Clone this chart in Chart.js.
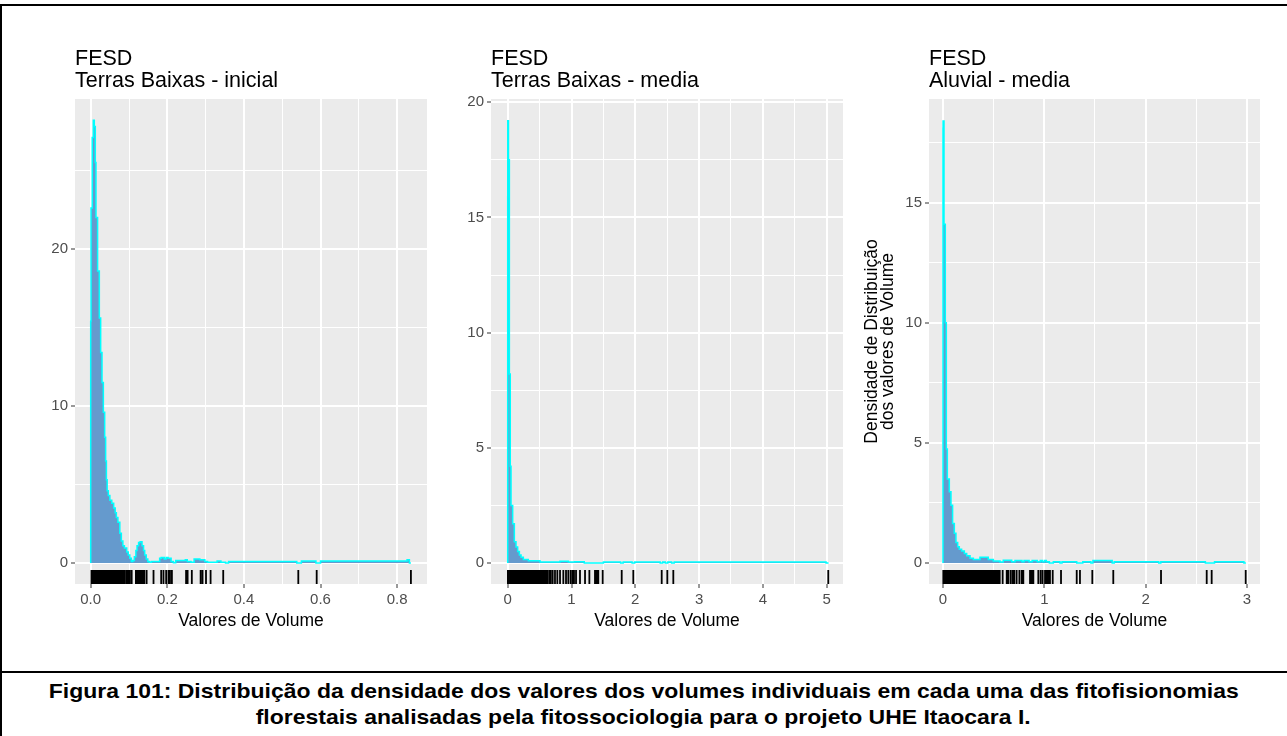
<!DOCTYPE html>
<html>
<head>
<meta charset="utf-8">
<title>Densidade dos volumes individuais</title>
<script src="https://cdn.jsdelivr.net/npm/chart.js@4.4.0/dist/chart.umd.min.js"></script>
<style>
  body { margin: 0; background: #fff; }
  #page { position: relative; width: 1287px; height: 736px; overflow: hidden; background: #fff; }
  .rule { position: absolute; background: #000; }
  .panel { position: absolute; }
  #caption { position: absolute; left: 0; top: 678px; width: 1287px; text-align: center;
             font-family: "Liberation Sans Narrow", "Liberation Sans", Arial, sans-serif;
             font-weight: bold; font-size: 21px; line-height: 26px; color: #000; }
  #caption div { white-space: nowrap; }
  #caption span { display: inline-block; transform-origin: center; }
</style>
</head>
<body>
<div id="page">
  <div class="rule" style="left:0;top:4px;width:1287px;height:2px"></div>
  <div class="rule" style="left:0;top:4px;width:2px;height:732px"></div>
  <div class="rule" style="left:0;top:671px;width:1287px;height:2px"></div>

  <div class="panel" style="left:20px;top:40px"><canvas id="chart1" width="420" height="600"></canvas></div>
  <div class="panel" style="left:445px;top:40px"><canvas id="chart2" width="410" height="600"></canvas></div>
  <div class="panel" style="left:850px;top:40px"><canvas id="chart3" width="430" height="600"></canvas></div>

  <div id="caption">
    <div><span id="cap1">Figura 101: Distribuição da densidade dos valores dos volumes individuais em cada uma das fitofisionomias</span></div>
    <div><span id="cap2">florestais analisadas pela fitossociologia para o projeto UHE Itaocara I.</span></div>
  </div>
</div>

<script>
// ---- data ----
const titles1 = ['FESD', 'Terras Baixas - inicial'];
const titles2 = ['FESD', 'Terras Baixas - media'];
const titles3 = ['FESD', 'Aluvial - media'];
const xTitle = 'Valores de Volume';
const yTitle3 = ['Densidade de Distribuição', 'dos valores de Volume'];

// panel 1: FESD Terras Baixas - inicial (step heights of the density)
const dens1X = [0, 0.0008, 0.004, 0.0068, 0.0094, 0.012, 0.0138, 0.018, 0.0225, 0.026, 0.0295, 0.033,
  0.0365, 0.039, 0.041, 0.043, 0.046, 0.050, 0.055, 0.060, 0.064, 0.067, 0.071, 0.076, 0.080, 0.084,
  0.088, 0.094, 0.098, 0.102, 0.106, 0.110, 0.114, 0.118, 0.121, 0.125, 0.129, 0.134, 0.138, 0.141,
  0.145, 0.149, 0.153, 0.158, 0.180, 0.184, 0.192, 0.197, 0.202, 0.210, 0.216, 0.222, 0.247, 0.252,
  0.262, 0.270, 0.285, 0.298, 0.305, 0.330, 0.340, 0.352, 0.360, 0.538, 0.550, 0.588, 0.600, 0.826,
  0.832, 0.836];
const dens1Y = [0, 15.4, 22.6, 27.1, 28.2, 27.8, 25.5, 22.0, 18.6, 15.6, 13.4, 11.5,
  9.6, 8.0, 6.5, 5.3, 4.6, 4.3, 4.0, 3.8, 3.5, 3.2, 2.9, 2.6, 1.9, 1.4,
  1.1, 0.95, 0.7, 0.5, 0.3, 0.1, 0.15, 0.4, 0.8, 1.1, 1.3, 1.35, 1.1, 0.8,
  0.5, 0.25, 0.1, 0.05, 0.1, 0.3, 0.35, 0.25, 0.35, 0.3, 0.1, 0.02, 0.15, 0.2,
  0.1, 0.05, 0.25, 0.2, 0.1, 0.05, 0.12, 0.05, 0, 0.1, 0, 0.12, 0, 0.12,
  0.2, 0];
const rug1 = [0.002, 0.006, 0.010, 0.014, 0.018, 0.022, 0.026, 0.030, 0.034, 0.038, 0.042, 0.046,
  0.050, 0.054, 0.058, 0.062, 0.066, 0.070, 0.074, 0.078, 0.081, 0.085, 0.089, 0.094, 0.098, 0.102,
  0.107, 0.118, 0.122, 0.125, 0.129, 0.132, 0.136, 0.140, 0.146, 0.164, 0.184, 0.190, 0.197, 0.203,
  0.207, 0.212, 0.249, 0.253, 0.264, 0.287, 0.292, 0.301, 0.313, 0.346, 0.542, 0.590, 0.836];

// panel 2: FESD Terras Baixas - media
const dens2X = [0, 0.001, 0.012, 0.026, 0.040, 0.052, 0.078, 0.104, 0.130, 0.156, 0.183, 0.209, 0.245,
  0.323, 0.506, 0.82, 0.95, 1.05, 1.2, 1.5, 1.77, 1.81, 1.95, 1.99, 2.39, 2.43, 2.47, 2.51, 2.57,
  2.61, 4.99, 5.03];
const dens2Y = [0, 15.9, 19.2, 17.5, 8.2, 4.2, 2.5, 1.7, 0.92, 0.7, 0.5, 0.35, 0.25,
  0.15, 0.1, 0.05, 0.08, 0.04, 0.06, 0, 0.05, 0, 0.05, 0, 0.05, 0, 0.05, 0, 0.05,
  0, 0.05, 0];
const rug2 = [0.003, 0.025, 0.05, 0.075, 0.1, 0.125, 0.15, 0.175, 0.2, 0.225, 0.25, 0.275, 0.3,
  0.325, 0.35, 0.375, 0.4, 0.425, 0.45, 0.475, 0.5, 0.525, 0.55, 0.575, 0.600, 0.621, 0.652, 0.674,
  0.705, 0.741, 0.778, 0.820, 0.872, 0.914, 0.950, 0.987, 1.018, 1.039, 1.071, 1.133, 1.212, 1.280,
  1.368, 1.395, 1.420, 1.489, 1.787, 1.969, 2.414, 2.502, 2.596, 5.025];

// panel 3: FESD Aluvial - media
const dens3X = [0, 0.001, 0.010, 0.023, 0.033, 0.043, 0.0625, 0.079, 0.095, 0.112, 0.128, 0.145,
  0.161, 0.184, 0.211, 0.234, 0.267, 0.300, 0.365, 0.447, 0.497, 0.563, 0.595, 0.678, 0.711, 0.78,
  0.80, 0.85, 0.88, 0.93, 0.96, 0.98, 1.00, 1.02, 1.05, 1.089, 1.155, 1.175, 1.32, 1.38, 1.46, 1.48,
  1.67, 1.69, 2.13, 2.15, 2.59, 2.68, 2.97, 2.99];
const dens3Y = [0, 18.1, 18.4, 14.1, 10.0, 4.75, 3.5, 2.97, 2.4, 1.65, 1.24, 0.85,
  0.68, 0.57, 0.5, 0.4, 0.3, 0.2, 0.15, 0.24, 0.15, 0.08, 0.04, 0.12, 0.05, 0.1,
  0.05, 0.1, 0.05, 0.1, 0.05, 0.1, 0.05, 0.1, 0.05, 0, 0.05, 0, 0.05, 0, 0.05, 0,
  0.1, 0, 0.05, 0, 0.05, 0, 0.05, 0];
const rug3 = [0.003, 0.02, 0.037, 0.054, 0.071, 0.088, 0.105, 0.122, 0.139, 0.156, 0.173, 0.19,
  0.207, 0.224, 0.241, 0.258, 0.275, 0.29, 0.305, 0.322, 0.339, 0.356, 0.373, 0.39, 0.407, 0.424,
  0.441, 0.458, 0.475, 0.492, 0.509, 0.526, 0.543, 0.56, 0.589, 0.629, 0.645, 0.668, 0.688, 0.704,
  0.727, 0.754, 0.777, 0.793, 0.859, 0.875, 0.892, 0.941, 0.964, 0.984, 1.007, 1.023, 1.040, 1.056,
  1.083, 1.165, 1.320, 1.352, 1.474, 1.681, 2.152, 2.603, 2.652, 2.988];

// axis ticks
const xMajor1 = [0, 0.2, 0.4, 0.6, 0.8], xMinor1 = [0.1, 0.3, 0.5, 0.7];
const xLabels1 = ['0.0', '0.2', '0.4', '0.6', '0.8'];
const yMajor1 = [0, 10, 20], yMinor1 = [5, 15, 25];
const yLabels1 = ['0', '10', '20'];

const xMajor2 = [0, 1, 2, 3, 4, 5], xMinor2 = [0.5, 1.5, 2.5, 3.5, 4.5];
const xLabels2 = ['0', '1', '2', '3', '4', '5'];
const yMajor2 = [0, 5, 10, 15, 20], yMinor2 = [2.5, 7.5, 12.5, 17.5];
const yLabels2 = ['0', '5', '10', '15', '20'];

const xMajor3 = [0, 1, 2, 3], xMinor3 = [0.5, 1.5, 2.5];
const xLabels3 = ['0', '1', '2', '3'];
const yMajor3 = [0, 5, 10, 15], yMinor3 = [2.5, 7.5, 12.5, 17.5];
const yLabels3 = ['0', '5', '10', '15'];

const FONT = '"Liberation Sans", Arial, sans-serif';

// grey ggplot panel
const panelBg = {
  id: 'panelBg',
  beforeDraw(chart) {
    const { ctx, chartArea: a } = chart;
    ctx.save();
    ctx.fillStyle = '#EBEBEB';
    ctx.fillRect(a.left, a.top, a.right - a.left, a.bottom - a.top);
    ctx.restore();
  }
};

// two-line title, left aligned on the panel
const panelTitle = {
  id: 'panelTitle',
  afterDraw(chart, args, opts) {
    const { ctx, chartArea } = chart;
    ctx.save();
    ctx.font = '21.5px ' + FONT;
    ctx.fillStyle = '#000';
    ctx.textBaseline = 'alphabetic';
    opts.lines.forEach((t, i) => ctx.fillText(t, chartArea.left, chartArea.top - 34 + i * 22.3));
    ctx.restore();
  }
};

// rug ticks along the bottom of the panel
const rugPlot = {
  id: 'rugPlot',
  afterDatasetsDraw(chart, args, opts) {
    const { ctx, chartArea } = chart;
    const xs = chart.scales.x;
    ctx.save();
    ctx.strokeStyle = '#000';
    ctx.lineWidth = 1.8;
    ctx.beginPath();
    opts.values.forEach(v => {
      const px = xs.getPixelForValue(v);
      ctx.moveTo(px, chartArea.bottom - 14);
      ctx.lineTo(px, chartArea.bottom);
    });
    ctx.stroke();
    ctx.restore();
  }
};

function axis(major, minor, labels, min, max, extra) {
  const isMajor = v => major.indexOf(v) >= 0;
  return Object.assign({
    type: 'linear',
    min: min,
    max: max,
    afterBuildTicks: scale => {
      scale.ticks = major.concat(minor).sort((a, b) => a - b).map(v => ({ value: v }));
    },
    border: { display: false },
    grid: {
      color: '#FFFFFF',
      lineWidth: c => (c.tick && isMajor(c.tick.value)) ? 2 : 1,
      tickColor: c => (c.tick && isMajor(c.tick.value)) ? '#333333' : 'rgba(0,0,0,0)',
      tickWidth: 1,
      tickLength: 4,
      drawTicks: true
    },
    ticks: {
      autoSkip: false,
      maxRotation: 0,
      color: '#4D4D4D',
      font: { family: FONT, size: 15 },
      callback: v => {
        const i = major.indexOf(v);
        return i >= 0 ? labels[i] : '';
      }
    }
  }, extra);
}

function makePanel(id, opts) {
  const ctx = document.getElementById(id).getContext('2d');
  const pts = opts.xs.map((x, i) => ({ x: x, y: opts.ys[i] }));

  const xScale = axis(opts.xMajor, opts.xMinor, opts.xLabels, opts.xRange[0], opts.xRange[1], {
    position: 'bottom',
    afterFit: s => { s.height = 56; },
    title: {
      display: true,
      text: xTitle,
      color: '#000',
      font: { family: FONT, size: 17.5 },
      padding: { top: 0, bottom: 8 }
    }
  });
  xScale.ticks.padding = 3;

  const yScale = axis(opts.yMajor, opts.yMinor, opts.yLabels, opts.yRange[0], opts.yRange[1], {
    position: 'left',
    afterFit: s => { s.width = opts.yWidth; },
    title: opts.yTitle ? {
      display: true,
      text: opts.yTitle,
      color: '#000',
      font: { family: FONT, size: 17.5, lineHeight: 0.92 },
      padding: { top: 14, bottom: 0 }
    } : { display: false }
  });
  yScale.ticks.padding = 3;

  return new Chart(ctx, {
    type: 'line',
    data: {
      datasets: [{
        data: pts,
        stepped: 'after',
        fill: 'origin',
        backgroundColor: '#659ACD',
        borderColor: '#00FFFF',
        borderWidth: 1.5,
        pointRadius: 0,
        tension: 0
      }]
    },
    options: {
      responsive: false,
      animation: false,
      parsing: true,
      layout: { padding: { top: 59, right: opts.padRight, left: 0, bottom: 0 } },
      scales: { x: xScale, y: yScale },
      plugins: {
        legend: { display: false },
        tooltip: { enabled: false },
        panelTitle: { lines: opts.titles },
        rugPlot: { values: opts.rug }
      }
    },
    plugins: [panelBg, panelTitle, rugPlot]
  });
}

makePanel('chart1', {
  xs: dens1X, ys: dens1Y, rug: rug1, titles: titles1,
  xMajor: xMajor1, xMinor: xMinor1, xLabels: xLabels1, xRange: [-0.041, 0.878],
  yMajor: yMajor1, yMinor: yMinor1, yLabels: yLabels1, yRange: [-1.34, 29.55],
  yWidth: 55, padRight: 13
});

makePanel('chart2', {
  xs: dens2X, ys: dens2Y, rug: rug2, titles: titles2,
  xMajor: xMajor2, xMinor: xMinor2, xLabels: xLabels2, xRange: [-0.262, 5.256],
  yMajor: yMajor2, yMinor: yMinor2, yLabels: yLabels2, yRange: [-0.91, 20.14],
  yWidth: 46, padRight: 12
});

makePanel('chart3', {
  xs: dens3X, ys: dens3Y, rug: rug3, titles: titles3, yTitle: yTitle3,
  xMajor: xMajor3, xMinor: xMinor3, xLabels: xLabels3, xRange: [-0.138, 3.129],
  yMajor: yMajor3, yMinor: yMinor3, yLabels: yLabels3, yRange: [-0.874, 19.32],
  yWidth: 79, padRight: 20
});

// squeeze the caption to the width of the original figure text
const cap1 = document.getElementById('cap1');
const cap2 = document.getElementById('cap2');
const k = 1190 / cap1.getBoundingClientRect().width;
cap1.style.transform = 'scaleX(' + k + ')';
cap2.style.transform = 'scaleX(' + k + ')';
</script>
</body>
</html>
